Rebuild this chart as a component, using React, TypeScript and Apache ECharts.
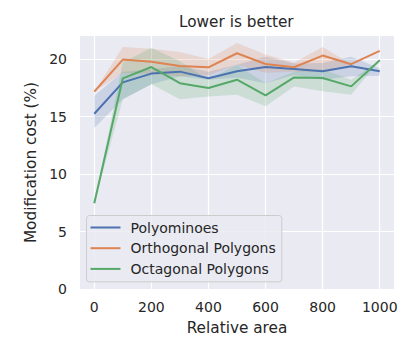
import React, { useEffect, useRef } from "react";
import * as echarts from "echarts";

const relativeArea = [0, 100, 200, 300, 400, 500, 600, 700, 800, 900, 1000];
const xTicks = [0, 200, 400, 600, 800, 1000];
const yTicks = [0, 5, 10, 15, 20];

const polyMean = [15.24, 17.97, 18.73, 18.9, 18.32, 18.93, 19.3, 19.13, 18.93, 19.37, 18.93];
const polyLow = [14.0, 16.5, 17.8, 18.5, 18.2, 18.4, 17.9, 18.6, 18.2, 18.5, 18.55];
const polyHigh = [16.8, 18.9, 19.1, 19.4, 18.9, 19.5, 20.2, 19.6, 19.66, 20.2, 19.2];

const orthoMean = [17.16, 19.95, 19.77, 19.4, 19.28, 20.5, 19.57, 19.28, 20.3, 19.55, 20.7];
const orthoLow = [17.16, 18.8, 18.7, 18.5, 18.6, 19.5, 18.8, 18.9, 18.9, 19.55, 20.7];
const orthoHigh = [17.16, 21.05, 20.9, 20.6, 20.0, 21.4, 20.4, 19.7, 21.05, 19.55, 20.7];

const octaMean = [7.46, 18.32, 19.3, 17.9, 17.48, 18.2, 16.84, 18.4, 18.35, 17.62, 19.9];
const octaLow = [7.46, 16.5, 17.8, 16.5, 16.75, 16.9, 15.9, 17.6, 17.2, 16.9, 19.9];
const octaHigh = [7.46, 19.7, 20.97, 19.8, 18.2, 19.5, 17.9, 18.9, 19.1, 18.2, 19.9];

const names = ["Polyominoes", "Orthogonal Polygons", "Octagonal Polygons"];
const colors = ["#4C72B0", "#DD8452", "#55A868"];

const FONT = "DejaVu Sans";
const TEXT = "#262626";

function pairs(ys: number[]) {
  return relativeArea.map((x, i) => [x, ys[i]]);
}

function bandSeries(key: string, low: number[], high: number[], color: string) {
  return {
    type: "custom",
    name: key + "-band",
    silent: true,
    z: 1,
    clip: true,
    data: relativeArea.map((x, i) => [x, low[i], high[i]]),
    encode: { x: 0, y: [1, 2] },
    renderItem: (params: any, api: any) => {
      if (params.dataIndex !== 0) return null;
      const top = relativeArea.map((x, i) => api.coord([x, high[i]]));
      const bottom = relativeArea.map((x, i) => api.coord([x, low[i]])).reverse();
      return {
        type: "polygon",
        shape: { points: top.concat(bottom) },
        style: { fill: color, opacity: 0.2, stroke: "none" },
      };
    },
  };
}

function lineSeries(name: string, ys: number[], color: string) {
  return {
    type: "line",
    name,
    data: pairs(ys),
    symbol: "none",
    z: 3,
    color,
    lineStyle: { color, width: 2 },
  };
}

export default function App() {
  const ref = useRef<HTMLDivElement>(null);
  useEffect(() => {
    document.body.style.margin = "0";
    const chart = echarts.init(ref.current!, null, { renderer: "svg" });
    chart.setOption({
      animation: false,
      textStyle: { fontFamily: FONT },
      title: {
        text: "Lower is better",
        left: 179,
        top: 14,
        padding: 0,
        textStyle: { fontFamily: FONT, fontSize: 15.3, fontWeight: "normal", color: TEXT },
      },
      grid: {
        left: 80,
        right: 21,
        top: 36,
        bottom: 62,
        show: true,
        backgroundColor: "#EAEAF2",
        borderWidth: 0,
      },
      legend: {
        data: names,
        orient: "vertical",
        left: 86.5,
        top: 215.5,
        icon: "rect",
        itemWidth: 30,
        itemHeight: 2,
        itemGap: 6.7,
        padding: [5, 6, 6, 4],
        backgroundColor: "rgba(234,234,242,0.8)",
        borderColor: "#CCCCCC",
        borderWidth: 1,
        borderRadius: 3,
        textStyle: { fontFamily: FONT, fontSize: 14, color: TEXT, padding: [0, 0, 0, 5] },
      },
      xAxis: {
        type: "value",
        min: -50,
        max: 1050,
        name: "Relative area",
        nameLocation: "middle",
        nameGap: 31,
        nameTextStyle: { fontFamily: FONT, fontSize: 15.3, color: TEXT },
        axisLine: { show: false },
        axisTick: { show: false, customValues: xTicks },
        axisLabel: {
          customValues: xTicks,
          formatter: (v: number) => String(v),
          fontFamily: FONT,
          fontSize: 14,
          color: TEXT,
          margin: 11,
        },
        splitLine: { show: true, lineStyle: { color: "#FFFFFF", width: 1.2 } },
      },
      yAxis: {
        type: "value",
        min: 0,
        max: 22,
        name: "Modification cost (%)",
        nameLocation: "middle",
        nameGap: 38,
        nameTextStyle: { fontFamily: FONT, fontSize: 15.3, color: TEXT },
        axisLine: { show: false },
        axisTick: { show: false, customValues: yTicks },
        axisLabel: { customValues: yTicks, fontFamily: FONT, fontSize: 14, color: TEXT, margin: 13 },
        splitLine: { show: true, lineStyle: { color: "#FFFFFF", width: 1.2 } },
      },
      series: [
        bandSeries("poly", polyLow, polyHigh, colors[0]),
        bandSeries("ortho", orthoLow, orthoHigh, colors[1]),
        bandSeries("octa", octaLow, octaHigh, colors[2]),
        lineSeries(names[0], polyMean, colors[0]),
        lineSeries(names[1], orthoMean, colors[1]),
        lineSeries(names[2], octaMean, colors[2]),
      ],
    });
    return () => chart.dispose();
  }, []);
  return <div ref={ref} style={{ width: 415, height: 351 }} />;
}
